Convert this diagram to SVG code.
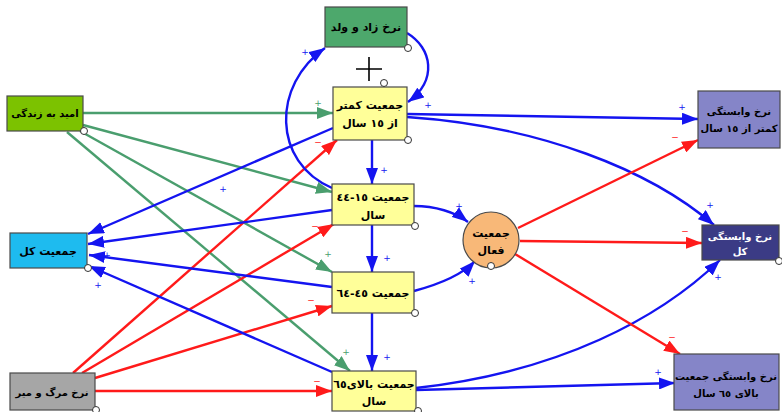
<svg xmlns="http://www.w3.org/2000/svg" width="782" height="412" viewBox="0 0 782 412">
<style>
.n{stroke:#4a4a4a;stroke-width:1.2}
.t{font-family:"DejaVu Sans",sans-serif;font-size:11px;font-weight:bold;fill:#000;text-anchor:middle;direction:rtl;unicode-bidi:embed}
.s{font-size:10px}
.w{fill:#fff}
.c{fill:#fff;stroke:#333;stroke-width:1}
.b{fill:none;stroke:#1414f0;stroke-width:2.4}
.r{fill:none;stroke:#ff1a1a;stroke-width:2.4}
.g{fill:none;stroke:#4a9e6e;stroke-width:2.4}
.lb{font-family:"DejaVu Sans",sans-serif;font-size:9px;fill:#1414f0;text-anchor:middle}
.lr{font-family:"DejaVu Sans",sans-serif;font-size:9px;fill:#ff1a1a;text-anchor:middle}
.lg{font-family:"DejaVu Sans",sans-serif;font-size:9px;fill:#4a9e6e;text-anchor:middle}
</style>
<defs>
<marker id="ab" markerUnits="userSpaceOnUse" markerWidth="17" markerHeight="12" refX="16" refY="6" orient="auto"><path d="M0,0 L16,6 L0,12 z" fill="#1414f0"/></marker>
<marker id="ar" markerUnits="userSpaceOnUse" markerWidth="17" markerHeight="12" refX="16" refY="6" orient="auto"><path d="M0,0 L16,6 L0,12 z" fill="#ff1a1a"/></marker>
<marker id="ag" markerUnits="userSpaceOnUse" markerWidth="17" markerHeight="12" refX="16" refY="6" orient="auto"><path d="M0,0 L16,6 L0,12 z" fill="#4a9e6e"/></marker>
</defs>
<rect width="782" height="412" fill="#fff"/>
<g id="connectors">
<path class="g" d="M83,113 L333,113" marker-end="url(#ag)"/>
<path class="g" d="M83,125 L332,192" marker-end="url(#ag)"/>
<path class="g" d="M80,131 L332,272" marker-end="url(#ag)"/>
<path class="g" d="M67,132 L350,371" marker-end="url(#ag)"/>
<path class="r" d="M73,373 L337,140" marker-end="url(#ar)"/>
<path class="r" d="M82,373 L334,224" marker-end="url(#ar)"/>
<path class="r" d="M95,378 L332,306" marker-end="url(#ar)"/>
<path class="r" d="M95,391 L332,391" marker-end="url(#ar)"/>
<path class="b" d="M333,128 L88,234" marker-end="url(#ab)"/>
<path class="b" d="M332,210 L88,244" marker-end="url(#ab)"/>
<path class="b" d="M332,287 L89,255" marker-end="url(#ab)"/>
<path class="b" d="M332,372 L89,266" marker-end="url(#ab)"/>
<path class="b" d="M372,140 L372,184" marker-end="url(#ab)"/>
<path class="b" d="M372,225 L372,272" marker-end="url(#ab)"/>
<path class="b" d="M372,313 L372,371" marker-end="url(#ab)"/>
<path class="b" d="M332,188 C272,162 272,85 325,48" marker-end="url(#ab)"/>
<path class="b" d="M407,33 C432,48 438,80 408,102" marker-end="url(#ab)"/>
<path class="b" d="M407,114 L698,119" marker-end="url(#ab)"/>
<path class="b" d="M407,117 C540,126 650,170 714,225" marker-end="url(#ab)"/>
<path class="b" d="M414,206 C435,206 455,212 468,222" marker-end="url(#ab)"/>
<path class="b" d="M414,291 C440,284 462,275 475,261" marker-end="url(#ab)"/>
<path class="b" d="M416,388 C560,372 660,318 720,260" marker-end="url(#ab)"/>
<path class="b" d="M416,390 L675,383" marker-end="url(#ab)"/>
<path class="r" d="M518,228 L698,140" marker-end="url(#ar)"/>
<path class="r" d="M520,241 L702,243" marker-end="url(#ar)"/>
<path class="r" d="M515,254 L680,354" marker-end="url(#ar)"/>
<text class="lg" x="318" y="106">+</text>
<text class="lg" x="328" y="257">+</text>
<text class="lg" x="346" y="355">+</text>
<text class="lr" x="318" y="145">−</text>
<text class="lr" x="315" y="229">−</text>
<text class="lr" x="311" y="303">−</text>
<text class="lr" x="317" y="384">−</text>
<text class="lb" x="223" y="192">+</text>
<text class="lb" x="107" y="258">+</text>
<text class="lb" x="98" y="288">+</text>
<text class="lb" x="384" y="173">+</text>
<text class="lb" x="387" y="261">+</text>
<text class="lb" x="387" y="360">+</text>
<text class="lb" x="305" y="55">+</text>
<text class="lb" x="428" y="108">+</text>
<text class="lb" x="682" y="110">+</text>
<text class="lb" x="710" y="208">+</text>
<text class="lb" x="459" y="209">+</text>
<text class="lb" x="472" y="284">+</text>
<text class="lb" x="718" y="280">+</text>
<text class="lb" x="658" y="375">+</text>
<text class="lr" x="675" y="140">−</text>
<text class="lr" x="685" y="234">−</text>
<text class="lr" x="672" y="340">−</text>
<path d="M356,69 L382,69 M369,57 L369,81" stroke="#000" stroke-width="1.6" fill="none"/>
</g>
<g id="birth">
<rect class="n" x="325" y="7" width="82" height="40" fill="#4da86c"/>
<text class="t" x="366" y="31">نرخ زاد و ولد</text>
<circle class="c" cx="408" cy="48" r="3.5"/>
</g>
<g id="under15">
<rect class="n" x="333" y="87" width="74" height="53" fill="#ffff99"/>
<text class="t" x="370" y="109">جمعیت کمتر</text>
<text class="t" x="370" y="127">از ١٥ سال</text>
<circle class="c" cx="384" cy="83" r="3.5"/>
<circle class="c" cx="408" cy="140" r="3.5"/>
</g>
<g id="p15_44">
<rect class="n" x="332" y="184" width="82" height="41" fill="#ffff99"/>
<text class="t" x="373" y="201">جمعیت ١٥-٤٤</text>
<text class="t" x="373" y="219">سال</text>
<circle class="c" cx="415" cy="226" r="3.5"/>
</g>
<g id="p45_64">
<rect class="n" x="332" y="272" width="82" height="41" fill="#ffff99"/>
<text class="t" x="373" y="297">جمعیت ٤٥-٦٤</text>
<circle class="c" cx="415" cy="313" r="3.5"/>
</g>
<g id="over65">
<rect class="n" x="332" y="371" width="84" height="40" fill="#ffff99"/>
<text class="t" x="374" y="388">جمعیت بالای٦٥</text>
<text class="t" x="374" y="405">سال</text>
<circle class="c" cx="418" cy="411" r="3.5"/>
</g>
<g id="active">
<circle class="n" cx="491" cy="240" r="28" fill="#f8b878"/>
<text class="t" x="491" y="237">جمعیت</text>
<text class="t" x="491" y="254">فعال</text>
<circle class="c" cx="491" cy="266" r="3.5"/>
</g>
<g id="life">
<rect class="n" x="7" y="96" width="76" height="35" fill="#7cc200"/>
<text class="t s" x="45" y="117">امید به زندگی</text>
<circle class="c" cx="84" cy="131" r="3.5"/>
</g>
<g id="total">
<rect class="n" x="10" y="233" width="77" height="35" fill="#1ebbef"/>
<text class="t" x="48" y="255">جمعیت کل</text>
<circle class="c" cx="88" cy="268" r="3.5"/>
</g>
<g id="mortality">
<rect class="n" x="10" y="373" width="85" height="37" fill="#a6a6a6"/>
<text class="t s" x="52" y="396">نرخ مرگ و میر</text>
<circle class="c" cx="96" cy="410" r="3.5"/>
</g>
<g id="dep15">
<rect class="n" x="698" y="91" width="82" height="57" fill="#8585c8"/>
<text class="t s" x="739" y="115">نرخ وابستگی</text>
<text class="t s" x="739" y="132">کمتر از ١٥ سال</text>
</g>
<g id="deptotal">
<rect class="n" x="702" y="225" width="77" height="35" fill="#3b3b85"/>
<text class="t s w" x="740" y="240">نرخ وابستگی</text>
<text class="t s w" x="740" y="255">کل</text>
<circle class="c" cx="779" cy="261" r="3.5"/>
</g>
<g id="dep65">
<rect class="n" x="674" y="354" width="105" height="56" fill="#8585c8"/>
<text class="t s" x="726" y="380">نرخ وابستگی جمعیت</text>
<text class="t s" x="726" y="397">بالای ٦٥ سال</text>
</g>
</svg>
